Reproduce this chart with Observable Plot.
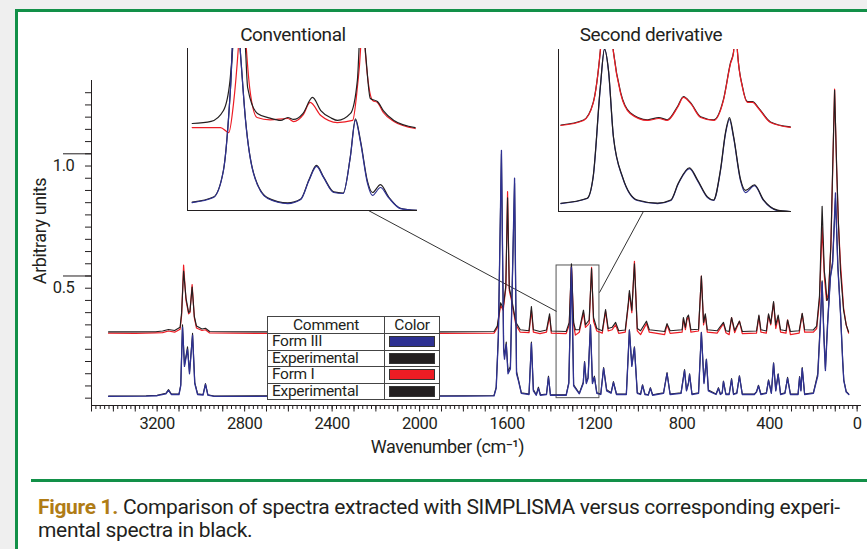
<!DOCTYPE html>
<html><head><meta charset="utf-8">
<script src="https://cdn.jsdelivr.net/npm/d3@7"></script>
<script src="https://cdn.jsdelivr.net/npm/@observablehq/plot@0.6"></script>
<style>
body{margin:0;background:#efefef;}
#page{position:relative;width:867px;height:549px;overflow:hidden;background:#efefef;font-family:Roboto,"Liberation Sans",sans-serif;color:#231f20;}
#frame{position:absolute;left:15px;top:9px;width:900px;height:600px;border:3px solid #129048;background:#fff;}
#sep{position:absolute;left:31px;top:479px;width:850px;height:3px;background:#129048;}
.abs{position:absolute;}
.title{font-size:19px;letter-spacing:-0.4px;text-align:center;width:220px;line-height:22px;}
#caption{left:38px;top:496px;font-size:21px;letter-spacing:-0.33px;line-height:23px;width:826px;white-space:nowrap;}
#caption b{color:#b07c16;font-weight:bold;}
#legend{position:absolute;left:267px;top:316px;border-collapse:collapse;background:#fff;font-size:15.5px;letter-spacing:-0.3px;}
#legend th,#legend td{border:1px solid #444;padding:0 4px;height:15.5px;line-height:15px;font-weight:normal;}
#legend th{height:16px;}
#legend td.c1{width:108px;text-align:left;}
#legend th.c1{width:108px;text-align:center;}
#legend .c2{width:45px;text-align:center;}
.sw{display:block;width:44px;height:9px;margin:0 auto;border:1px solid #333;}
</style></head>
<body>
<div id="page">
  <div id="frame"></div>
  <div id="sep"></div>
  <div id="main" class="abs" style="left:0;top:0"></div>
  <div id="inset1" class="abs" style="left:186px;top:47px"></div>
  <div id="inset2" class="abs" style="left:557px;top:48px"></div>
  <div id="t1" class="abs title" style="left:183px;top:24px"></div>
  <div id="t2" class="abs title" style="left:541px;top:24px"></div>
  <table id="legend"></table>
  <div id="caption" class="abs"><b>Figure 1.</b> Comparison of spectra extracted with SIMPLISMA versus corresponding experi-<br>mental spectra in black.</div>
</div>
<script>
// ---------- DATA ----------
const insetTitles = ["Conventional", "Second derivative"];
const xLabel = "Wavenumber (cm\u207B\u00B9)";
const yLabel = "Arbitrary units";
const xLabelTicks = [3200, 2800, 2400, 2000, 1600, 1200, 800, 400, 0];
const yLabelTicks = [0.5, 1.0];
const legendLabels = ["Form III", "Experimental", "Form I", "Experimental"];
const legendColors = ["#2e3192", "#231f20", "#ed1c24", "#231f20"];

// main spectra: [wavenumber, intensity]
const formI = [[3422,0.266],[3300,0.265],[3207,0.267],[3175,0.268],[3148,0.275],[3120,0.27],[3095,0.282],[3088,0.34],[3079,0.545],[3068,0.40],[3056,0.345],[3050,0.35],[3040,0.465],[3030,0.33],[3020,0.287],[2995,0.277],[2979,0.28],[2960,0.267],[2700,0.265],[2300,0.267],[1900,0.265],[1660,0.266],[1645,0.287],[1630,0.38],[1618,0.36],[1606,0.45],[1598,0.845],[1590,0.44],[1580,0.40],[1572,0.36],[1560,0.30],[1540,0.27],[1500,0.268],[1489,0.36],[1480,0.27],[1450,0.264],[1420,0.27],[1406,0.335],[1398,0.266],[1330,0.264],[1316,0.30],[1306,0.54],[1296,0.30],[1288,0.258],[1270,0.27],[1251,0.35],[1242,0.29],[1225,0.305],[1214,0.535],[1205,0.315],[1190,0.275],[1165,0.266],[1150,0.355],[1138,0.275],[1120,0.28],[1104,0.30],[1090,0.265],[1060,0.27],[1046,0.38],[1041,0.43],[1030,0.35],[1018,0.56],[1005,0.275],[990,0.26],[963,0.305],[950,0.27],[880,0.26],[869,0.30],[855,0.265],[800,0.27],[794,0.325],[785,0.28],[778,0.32],[771,0.335],[760,0.27],[725,0.275],[712,0.50],[702,0.30],[694,0.34],[685,0.27],[640,0.266],[611,0.305],[600,0.268],[585,0.26],[574,0.33],[560,0.268],[538,0.315],[525,0.264],[460,0.266],[449,0.335],[440,0.27],[415,0.266],[405,0.34],[395,0.30],[382,0.39],[372,0.285],[361,0.33],[350,0.27],[325,0.266],[318,0.32],[305,0.26],[265,0.266],[251,0.345],[240,0.27],[200,0.27],[185,0.285],[172,0.40],[160,0.70],[150,0.50],[140,0.40],[131,0.43],[120,0.62],[112,0.92],[103,1.265],[94,0.95],[86,0.72],[76,0.55],[62,0.37],[50,0.30],[39,0.266]];
const expI = [[3422,0.271],[3300,0.271],[3207,0.272],[3175,0.275],[3148,0.281],[3120,0.277],[3095,0.29],[3088,0.35],[3079,0.52],[3068,0.41],[3056,0.35],[3050,0.355],[3040,0.455],[3030,0.335],[3020,0.295],[2995,0.283],[2979,0.286],[2960,0.273],[2700,0.271],[2300,0.272],[1900,0.271],[1660,0.273],[1645,0.295],[1630,0.39],[1618,0.37],[1606,0.46],[1598,0.82],[1590,0.45],[1580,0.41],[1572,0.37],[1560,0.31],[1540,0.28],[1500,0.276],[1489,0.375],[1480,0.28],[1450,0.273],[1420,0.279],[1406,0.345],[1398,0.275],[1330,0.273],[1316,0.31],[1306,0.55],[1296,0.31],[1288,0.28],[1270,0.28],[1251,0.36],[1242,0.30],[1225,0.32],[1214,0.53],[1205,0.33],[1190,0.285],[1165,0.276],[1150,0.363],[1138,0.285],[1120,0.29],[1104,0.31],[1090,0.276],[1060,0.279],[1046,0.39],[1041,0.44],[1030,0.36],[1018,0.55],[1005,0.285],[990,0.276],[963,0.315],[950,0.28],[880,0.273],[869,0.305],[855,0.276],[800,0.28],[794,0.33],[785,0.29],[778,0.33],[771,0.34],[760,0.28],[725,0.282],[712,0.50],[702,0.31],[694,0.345],[685,0.28],[640,0.276],[611,0.31],[600,0.276],[585,0.273],[574,0.33],[560,0.277],[538,0.315],[525,0.273],[460,0.275],[449,0.34],[440,0.28],[415,0.275],[405,0.345],[395,0.305],[382,0.395],[372,0.30],[361,0.34],[350,0.28],[325,0.276],[318,0.32],[305,0.273],[265,0.276],[251,0.347],[240,0.28],[200,0.279],[185,0.295],[172,0.42],[160,0.785],[150,0.52],[145,0.48],[138,0.40],[131,0.41],[120,0.63],[112,0.935],[103,1.26],[94,0.96],[86,0.73],[76,0.52],[62,0.36],[50,0.30],[39,0.271]];
const formIII = [[3422,0.007],[3250,0.008],[3200,0.01],[3160,0.018],[3148,0.032],[3135,0.015],[3100,0.015],[3092,0.05],[3084,0.29],[3075,0.13],[3061,0.20],[3052,0.10],[3038,0.257],[3028,0.06],[3015,0.015],[2990,0.013],[2979,0.056],[2968,0.012],[2940,0.007],[2600,0.008],[2200,0.007],[1800,0.008],[1660,0.009],[1650,0.04],[1640,0.25],[1626,1.014],[1616,0.2],[1612,0.16],[1604,0.22],[1596,0.10],[1585,0.12],[1566,0.90],[1557,0.10],[1548,0.07],[1535,0.02],[1500,0.015],[1489,0.224],[1480,0.03],[1467,0.012],[1457,0.04],[1448,0.012],[1420,0.015],[1411,0.085],[1402,0.012],[1330,0.012],[1318,0.06],[1306,0.535],[1296,0.05],[1270,0.018],[1252,0.06],[1246,0.146],[1238,0.06],[1230,0.08],[1219,0.298],[1210,0.06],[1201,0.085],[1190,0.02],[1172,0.015],[1159,0.122],[1145,0.03],[1125,0.02],[1114,0.064],[1100,0.015],[1055,0.015],[1041,0.277],[1030,0.13],[1018,0.207],[1005,0.02],[990,0.015],[981,0.052],[970,0.015],[955,0.012],[945,0.04],[935,0.012],[885,0.02],[869,0.101],[855,0.015],[805,0.02],[789,0.113],[780,0.03],[771,0.06],[766,0.097],[755,0.015],[725,0.02],[712,0.268],[700,0.06],[689,0.158],[680,0.03],[645,0.015],[634,0.04],[625,0.015],[617,0.02],[611,0.068],[600,0.015],[585,0.015],[574,0.076],[565,0.015],[550,0.02],[538,0.089],[525,0.015],[470,0.015],[460,0.025],[451,0.05],[440,0.015],[415,0.02],[405,0.072],[392,0.02],[382,0.142],[372,0.03],[361,0.097],[350,0.015],[330,0.02],[318,0.081],[305,0.015],[270,0.015],[263,0.085],[257,0.03],[251,0.122],[240,0.015],[200,0.02],[180,0.09],[168,0.30],[160,0.475],[152,0.25],[145,0.113],[135,0.30],[122,0.495],[112,0.55],[99,0.84],[88,0.535],[76,0.347],[66,0.15],[61,0.072],[50,0.025],[38,0.015]];
const expIII = [[3422,0.009],[3250,0.01],[3200,0.012],[3160,0.02],[3148,0.035],[3135,0.017],[3100,0.017],[3092,0.055],[3084,0.30],[3075,0.135],[3061,0.21],[3052,0.105],[3038,0.265],[3028,0.065],[3015,0.018],[2990,0.015],[2979,0.06],[2968,0.014],[2940,0.009],[2600,0.01],[2200,0.009],[1800,0.01],[1660,0.011],[1650,0.045],[1640,0.26],[1626,1.0],[1616,0.21],[1612,0.17],[1604,0.23],[1596,0.11],[1585,0.13],[1566,0.88],[1557,0.11],[1548,0.075],[1535,0.022],[1500,0.017],[1489,0.23],[1480,0.035],[1467,0.014],[1457,0.045],[1448,0.014],[1420,0.017],[1411,0.09],[1402,0.014],[1330,0.014],[1318,0.065],[1306,0.54],[1296,0.055],[1270,0.02],[1252,0.065],[1246,0.15],[1238,0.065],[1230,0.085],[1219,0.30],[1210,0.065],[1201,0.09],[1190,0.022],[1172,0.017],[1159,0.125],[1145,0.035],[1125,0.022],[1114,0.068],[1100,0.017],[1055,0.017],[1041,0.28],[1030,0.135],[1018,0.21],[1005,0.022],[990,0.017],[981,0.055],[970,0.017],[955,0.014],[945,0.043],[935,0.014],[885,0.022],[869,0.105],[855,0.017],[805,0.022],[789,0.117],[780,0.033],[771,0.063],[766,0.10],[755,0.017],[725,0.022],[712,0.27],[700,0.065],[689,0.16],[680,0.033],[645,0.017],[634,0.043],[625,0.017],[617,0.022],[611,0.07],[600,0.017],[585,0.017],[574,0.08],[565,0.017],[550,0.022],[538,0.092],[525,0.017],[470,0.017],[460,0.027],[451,0.053],[440,0.017],[415,0.022],[405,0.075],[392,0.022],[382,0.145],[372,0.033],[361,0.10],[350,0.017],[330,0.022],[318,0.085],[305,0.017],[270,0.017],[263,0.088],[257,0.033],[251,0.125],[240,0.017],[200,0.022],[180,0.10],[168,0.32],[160,0.48],[152,0.26],[145,0.12],[135,0.31],[122,0.50],[112,0.56],[99,0.82],[88,0.54],[76,0.35],[66,0.155],[61,0.075],[50,0.028],[38,0.017]];

// zoomed region marked on the main spectrum and the connector lines to the insets
const zoomBox = {x1: 1374, x2: 1178, y1: 0.0, y2: 0.543};
const connectors = [
  {x1: 2234, y1: 0.768, x2: 1374, y2: 0.355},
  {x1: 977, y1: 0.764, x2: 1178, y2: 0.432}
];

// inset "Conventional"
const convFormI = [[1376,0.512],[1352,0.512],[1345,0.481],[1341,0.66],[1337,0.994],[1333.5,1.42],[1330,0.988],[1327,0.741],[1321,0.574],[1310,0.56],[1295,0.568],[1290,0.549],[1282,0.59],[1276,0.667],[1267,0.586],[1253,0.543],[1240,0.556],[1236,0.759],[1233.3,0.994],[1231.6,1.30],[1229,0.957],[1223,0.679],[1219,0.667],[1214,0.605],[1205,0.549],[1187,0.506]];
const convExpI = [[1376,0.537],[1360,0.55],[1349.5,0.617],[1344,0.80],[1341.8,0.988],[1337,1.45],[1331,1.02],[1329,0.759],[1320.7,0.599],[1310,0.57],[1301,0.556],[1295,0.574],[1290,0.562],[1282,0.60],[1274,0.698],[1267,0.617],[1258,0.57],[1252.8,0.556],[1241.8,0.599],[1236,0.802],[1232.5,1.25],[1229,0.969],[1225,0.691],[1219,0.673],[1214,0.617],[1205,0.556],[1187,0.512]];
const convFormIII = [[1376,0.049],[1358,0.08],[1349.5,0.247],[1343.5,0.759],[1339.3,1.36],[1335.1,0.969],[1330.8,0.556],[1324,0.228],[1312,0.074],[1295,0.043],[1284,0.068],[1277,0.185],[1270.6,0.272],[1264.7,0.204],[1256,0.111],[1248,0.105],[1242,0.327],[1237.6,0.556],[1233.3,0.42],[1227.4,0.167],[1223.2,0.093],[1216.4,0.142],[1209.6,0.08],[1199.4,0.012],[1185,0.0]];
const convExpIII = [[1376,0.052],[1358,0.083],[1349.5,0.25],[1343.5,0.76],[1339.3,1.36],[1335.1,0.97],[1330.8,0.56],[1324,0.232],[1312,0.078],[1295,0.047],[1284,0.071],[1277,0.19],[1270.6,0.278],[1264.7,0.208],[1256,0.115],[1248,0.108],[1242,0.33],[1237.6,0.565],[1233.3,0.43],[1227.4,0.18],[1223.2,0.111],[1216.4,0.16],[1209.6,0.085],[1199.4,0.014],[1185,0.0]];

// inset "Second derivative"
const derivFormI = [[1378,0.531],[1359,0.562],[1351,0.667],[1345,0.994],[1340,1.49],[1334,0.981],[1328,0.728],[1320,0.605],[1305.5,0.562],[1296,0.574],[1289,0.562],[1280.4,0.642],[1275.4,0.704],[1269.5,0.667],[1261,0.58],[1250,0.562],[1242,0.685],[1236,0.914],[1233.5,0.981],[1232,1.30],[1230.2,0.981],[1226,0.765],[1221.8,0.673],[1217.6,0.673],[1212.6,0.636],[1202.6,0.549],[1186,0.519]];
const derivExpI = [[1378,0.534],[1359,0.565],[1351,0.672],[1345,0.99],[1340,1.48],[1334,0.985],[1328,0.735],[1320,0.61],[1305.5,0.566],[1296,0.58],[1289,0.566],[1280.4,0.648],[1275.4,0.71],[1269.5,0.672],[1261,0.585],[1250,0.566],[1242,0.69],[1236,0.92],[1233.5,0.985],[1232,1.29],[1230.2,0.985],[1226,0.77],[1221.8,0.678],[1217.6,0.678],[1212.6,0.64],[1202.6,0.553],[1186,0.522]];
const derivFormIII = [[1378,0.049],[1356,0.08],[1351,0.21],[1345,0.765],[1341.5,1.006],[1338.2,0.87],[1334,0.457],[1326.4,0.21],[1314,0.068],[1297,0.049],[1286,0.068],[1279.6,0.173],[1270.4,0.265],[1263.7,0.191],[1255.3,0.086],[1250.3,0.068],[1244.4,0.253],[1240.2,0.481],[1236.9,0.568],[1233.5,0.457],[1227.7,0.191],[1223.5,0.117],[1216,0.16],[1208.4,0.068],[1196.7,0.006],[1186,0.0]];
const derivExpIII = [[1378,0.051],[1356,0.082],[1351,0.215],[1345,0.77],[1341.5,1.0],[1338.2,0.875],[1334,0.46],[1326.4,0.214],[1314,0.071],[1297,0.052],[1286,0.071],[1279.6,0.177],[1270.4,0.27],[1263.7,0.196],[1255.3,0.09],[1250.3,0.071],[1244.4,0.26],[1240.2,0.49],[1236.9,0.58],[1233.5,0.465],[1227.7,0.2],[1223.5,0.13],[1216,0.165],[1208.4,0.072],[1196.7,0.008],[1186,0.0]];

// ---------- STYLE ----------
const INK = "#231f20", BLUE = "#2e3192", RED = "#ed1c24";
const FONT = 'Roboto,"Liberation Sans",sans-serif';
const xDomain = [3500, -20];
const yDomain = [-0.03, 1.30];
const xMinor = d3.range(0, 3501, 20);
const xMid = d3.range(0, 3501, 100);
const yMinor = d3.range(0, 1.2501, 0.05);

const line = (data, stroke, w = 1.1, extra = {}) =>
  Plot.line(data, {x: d => d[0], y: d => d[1], stroke, strokeWidth: w, ...extra});

const main = Plot.plot({
  width: 867, height: 470,
  marginLeft: 91, marginRight: 6, marginTop: 80, marginBottom: 65,
  x: {domain: xDomain},
  y: {domain: yDomain},
  style: {background: "none", fontFamily: FONT, fontSize: "16px", letterSpacing: "-0.4px", color: INK, overflow: "visible"},
  marks: [
    Plot.axisX(xMinor, {tickSize: 4, fill: "none", label: null, stroke: INK}),
    Plot.axisX(xMid, {tickSize: 6.5, fill: "none", label: null, stroke: INK}),
    Plot.axisX(xLabelTicks, {tickSize: 0, tickPadding: 12, tickFormat: d => `${d}`, label: null, fill: INK, fontSize: 16.5}),
    Plot.axisY(yMinor, {tickSize: 6, fill: "none", label: null, stroke: INK}),
    Plot.axisY(yLabelTicks, {tickSize: 28, fill: "none", label: null, stroke: INK}),
    Plot.axisY(yLabelTicks, {tickSize: 0, tickPadding: 17, dy: 12, tickFormat: d3.format(".1f"), label: null, fill: INK, fontSize: 16.5}),
    Plot.ruleX([xDomain[0]], {stroke: INK}),
    Plot.ruleY([yDomain[0]], {stroke: INK}),
    Plot.text([xLabel], {frameAnchor: "bottom", dx: -29, dy: 47, fontSize: 18, fill: INK}),
    Plot.text([yLabel], {frameAnchor: "left", textAnchor: "middle", dx: -51, dy: -12, rotate: -90, fontSize: 18, fill: INK}),
    Plot.rect([zoomBox], {x1: "x1", x2: "x2", y1: "y1", y2: "y2", stroke: "#555", strokeWidth: 1, fill: "none"}),
    Plot.link(connectors, {x1: "x1", y1: "y1", x2: "x2", y2: "y2", stroke: "#333", strokeWidth: 1}),
    line(formI, RED, 1.2),
    line(expI, INK, 1.15),
    line(expIII, INK, 1.1),
    line(formIII, BLUE, 1.3)
  ]
});
document.getElementById("main").append(main);

const insetX = [1380, 1185], insetY = [0, 1];
function inset(width, series) {
  return Plot.plot({
    width, height: 164,
    marginLeft: 1, marginRight: 1, marginTop: 1, marginBottom: 1,
    x: {domain: insetX, axis: null},
    y: {domain: insetY, axis: null},
    style: {background: "none", overflow: "visible"},
    marks: [
      Plot.ruleX([insetX[0]], {stroke: INK}),
      Plot.ruleY([insetY[0]], {stroke: INK}),
      ...series.map(([d, c]) => line(d, c, 1.2, {curve: "monotone-x", clip: true}))
    ]
  });
}
document.getElementById("inset1").append(inset(232, [[convFormI, RED], [convExpI, INK], [convExpIII, INK], [convFormIII, BLUE]]));
document.getElementById("inset2").append(inset(235, [[derivExpI, INK], [derivFormI, RED], [derivFormIII, BLUE], [derivExpIII, INK]]));
document.getElementById("t1").textContent = insetTitles[0];
document.getElementById("t2").textContent = insetTitles[1];

// legend table
const tbl = document.getElementById("legend");
tbl.innerHTML = '<tr><th class="c1">Comment</th><th class="c2">Color</th></tr>' +
  legendLabels.map((l, i) => `<tr><td class="c1">${l}</td><td class="c2"><span class="sw" style="background:${legendColors[i]}"></span></td></tr>`).join("");
</script>
</body></html>
